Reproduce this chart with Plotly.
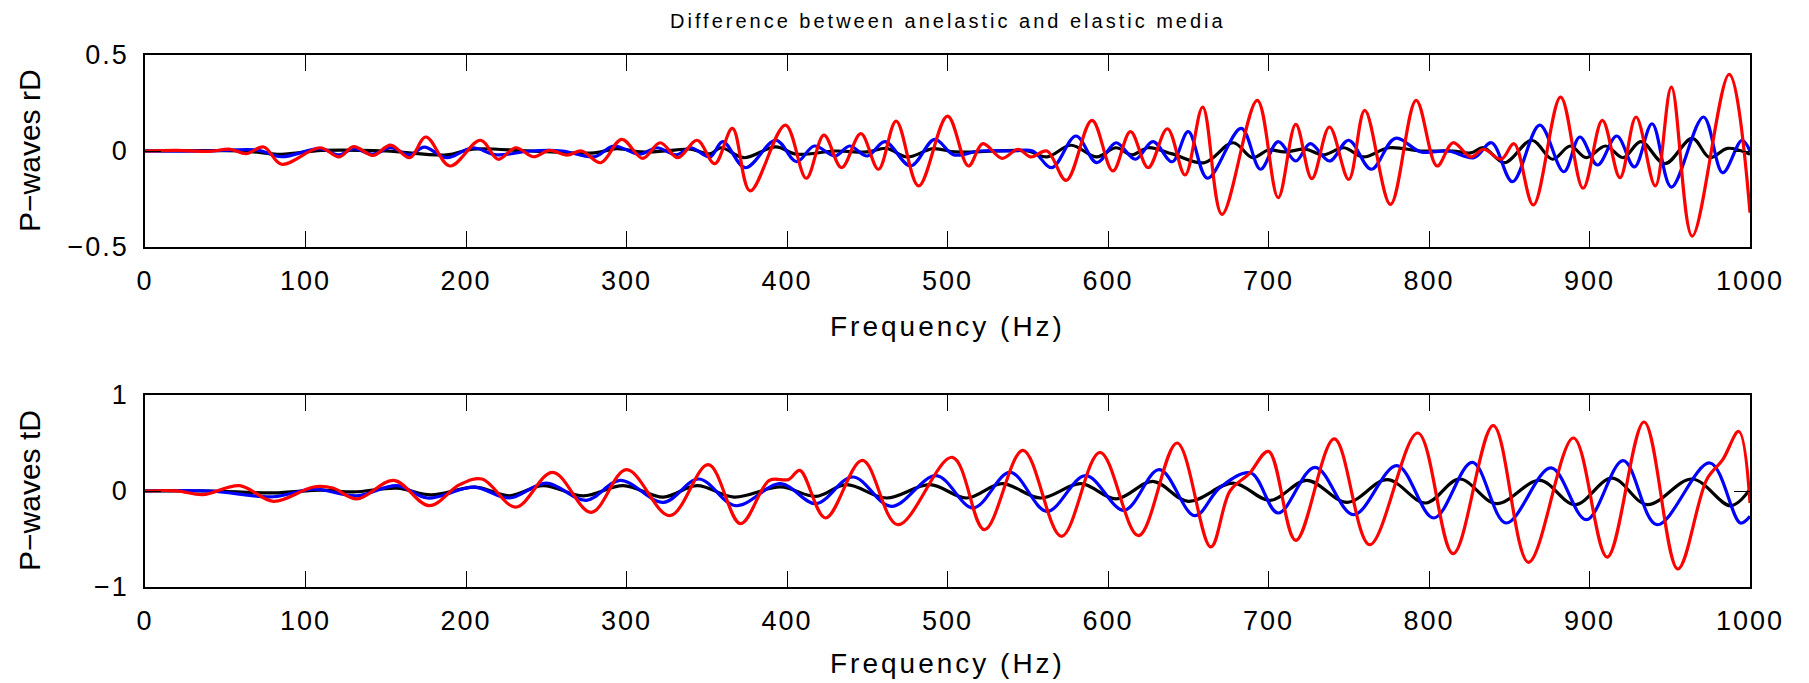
import plotly.graph_objects as go

# ---------------- data ----------------
# Top panel: P-waves rD
top_red_f = [0, 20, 40, 53, 63, 74, 85, 109, 121, 130, 142, 153, 165,
             175, 190, 209, 220, 231, 242, 252, 263, 272, 284, 297, 310, 321, 332,
             344, 355, 366, 377, 399, 412, 423, 434, 446, 457, 468, 482, 500,
             513, 522, 534, 544, 552, 562, 574, 590, 603, 614, 625, 637, 648, 659, 671,
             693, 706, 717, 727, 738, 750, 760, 776, 792, 805, 815, 826, 834,
             845, 853, 865, 882, 896, 908, 919, 929, 941, 951, 964, 987, 1000]
top_red_v = [0, 0.003, -0.002, 0.009, -0.014, 0.021, -0.069, 0.017, -0.031, 0.023, -0.023, 0.031, -0.035,
             0.073, -0.078, 0.056, -0.043, 0.017, -0.030, 0.003, -0.021, 0.0, -0.061, 0.061, -0.038, 0.043, -0.035,
             0.056, -0.066, 0.118, -0.208, 0.135, -0.142, 0.083, -0.087, 0.090, -0.095, 0.156, -0.182, 0.182,
             -0.078, 0.038, -0.038, 0.009, -0.031, 0.0, -0.153, 0.160, -0.104, 0.101, -0.087, 0.116, -0.125, 0.229, -0.330,
             0.264, -0.243, 0.139, -0.144, 0.125, -0.148, 0.212, -0.278, 0.264, -0.078, 0.043, -0.031, 0.009,
             -0.043, 0.038, -0.281, 0.281, -0.194, 0.160, -0.139, 0.177, -0.182, 0.333, -0.443, 0.399, -0.321]

top_blue_f = [0, 40, 70, 85, 109, 121, 130, 142, 153, 165,
              174, 188, 204, 219, 240, 260, 280, 292, 308, 319, 331,
              340, 352, 360, 374, 393, 406, 417, 430, 439, 450, 461, 477, 492, 504,
              520, 540, 553, 565, 580, 593, 605, 617, 628, 640, 650, 662,
              683, 695, 706, 717, 726, 738, 750, 764, 779, 795, 812, 828, 839,
              852, 869, 884, 894, 905, 917, 928, 939, 951, 971, 983, 995, 1000]
top_blue_v = [0, 0.0, 0.005, -0.03, 0.012, -0.02, 0.012, -0.017, 0.017, -0.02,
              0.02, -0.035, 0.017, -0.02, 0.0, 0.0, -0.03, 0.026, -0.017, 0.017, -0.02,
              0.017, -0.031, 0.049, -0.087, 0.056, -0.056, 0.026, -0.026, 0.026, -0.026, 0.049, -0.078, 0.061, -0.02,
              0.0, 0.0, 0.0, -0.087, 0.078, -0.061, 0.043, -0.043, 0.049, -0.056, 0.101, -0.142,
              0.118, -0.095, 0.049, -0.052, 0.038, -0.052, 0.056, -0.095, 0.066, -0.005, 0.0, -0.035, 0.043,
              -0.16, 0.135, -0.108, 0.073, -0.073, 0.078, -0.083, 0.142, -0.188, 0.177, -0.113, 0.056, 0.0]

top_black_f = [0, 60, 85, 110, 150,
               188, 204, 240, 280, 294, 310, 330,
               340, 352, 359, 373, 393, 406, 430, 450, 462, 475, 491, 505,
               530, 550, 562, 577, 593, 605, 615, 625, 640, 660,
               678, 690, 700, 710, 723, 734, 747, 759, 775, 795, 815, 826, 834,
               847, 864, 877, 888, 898, 910, 921, 932, 947, 964, 975, 986, 1000]
top_black_v = [0, 0, -0.017, 0.003, 0.0,
               -0.02, 0.01, 0.0, -0.01, 0.012, -0.005, 0.005,
               0.01, -0.015, 0.017, -0.035, 0.021, -0.017, 0.0, -0.005, 0.014, -0.031, 0.012, -0.005,
               0.0, 0.0, -0.031, 0.03, -0.031, 0.017, -0.02, 0.017, -0.015, -0.061,
               0.043, -0.035, 0.005, -0.005, 0.009, -0.02, 0.017, -0.031, 0.017, 0.0, 0.0, -0.01, 0.017,
               -0.061, 0.056, -0.043, 0.026, -0.035, 0.026, -0.035, 0.049, -0.066, 0.066, -0.035, 0.014, -0.017]

# Bottom panel: P-waves tD
bot_red_f = [0, 20, 36, 59, 80, 105, 117, 132, 155,
             177, 196, 210, 231, 254, 278, 300, 327,
             351, 371, 389, 401, 408, 424, 447, 469, 503,
             523, 547, 571, 595, 619, 643, 664,
             676, 688, 700, 717, 741, 763, 793, 815, 840,
             862, 890, 911, 934, 955, 973, 983, 993, 1000]
bot_red_v = [0, 0.002, -0.038, 0.056, -0.108, 0.042, 0.031, -0.083, 0.111,
             -0.153, 0.066, 0.125, -0.167, 0.194, -0.222, 0.222, -0.257,
             0.274, -0.34, 0.11, 0.12, 0.215, -0.281, 0.319, -0.351, 0.351,
             -0.403, 0.424, -0.472, 0.403, -0.465, 0.5, -0.583,
             0.0, 0.18, 0.413, -0.514, 0.542, -0.559, 0.604, -0.653, 0.681,
             -0.743, 0.552, -0.688, 0.719, -0.8125, 0.118, 0.326, 0.62, -0.125]

bot_blue_f = [0, 40, 80, 105, 132, 157,
              176, 205, 227, 250, 275, 296, 323,
              345, 368, 396, 418, 441, 465, 493,
              516, 539, 562, 586, 610, 632, 654,
              670, 689, 706, 729, 753, 780, 803, 827,
              848, 876, 898, 921, 942, 975, 994, 1000]
bot_blue_v = [0, 0, -0.06, 0.02, -0.05, 0.056,
              -0.073, 0.04, -0.073, 0.083, -0.097, 0.111, -0.118,
              0.125, -0.153, 0.076, -0.132, 0.146, -0.16, 0.16,
              -0.177, 0.194, -0.212, 0.16, -0.201, 0.222, -0.257,
              0.04, 0.188, -0.229, 0.247, -0.247, 0.264, -0.281, 0.299,
              -0.333, 0.24, -0.299, 0.316, -0.351, 0.292, -0.333, -0.264]

bot_black_f = [0, 40, 80, 110, 130, 157,
               178, 206, 227, 248, 273, 298, 323,
               344, 367, 396, 418, 437, 462, 489,
               512, 534, 558, 583, 605, 628, 650,
               678, 701, 724, 749, 774, 798, 819, 842,
               869, 891, 914, 936, 964, 988, 1000]
bot_black_v = [0, 0, -0.02, 0.01, -0.01, 0.03,
               -0.04, 0.04, -0.05, 0.056, -0.05, 0.056, -0.063,
               0.056, -0.063, 0.042, -0.056, 0.066, -0.073, 0.066,
               -0.073, 0.076, -0.073, 0.076, -0.083, 0.1, -0.108,
               0.083, -0.097, 0.111, -0.118, 0.118, -0.125, 0.125, -0.132,
               0.111, -0.142, 0.135, -0.142, 0.125, -0.153, 0.02]

x_ticks = [0, 100, 200, 300, 400, 500, 600, 700, 800, 900, 1000]
x_ticktext = ["0", "100", "200", "300", "400", "500", "600", "700", "800", "900", "1000"]
top_yticks = [-0.5, 0, 0.5]
top_yticktext = ["\u22120.5", "0", "0.5"]
bot_yticks = [-1, 0, 1]
bot_yticktext = ["\u22121", "0", "1"]

title_text = "Difference between anelastic and elastic media"
top_ylabel = "P\u2212waves rD"
bot_ylabel = "P\u2212waves tD"
x_label = "Frequency (Hz)"

# ---------------- figure ----------------
FONT = "Liberation Sans, Arial, Helvetica, sans-serif"
W, H = 1809, 683
ML, MR, MT, MB = 145, 59, 55, 96
plot_h = H - MT - MB
top_dom = [(587 - 247) / plot_h, 1.0]
bot_dom = [0.0, (587 - 395) / plot_h]


def spaced(s, px):
    return '<span style="letter-spacing:%.1fpx">%s</span>' % (px, s)


fig = go.Figure()


def add(fx, fv, color, xa, ya):
    assert len(fx) == len(fv)
    fig.add_trace(go.Scatter(x=fx, y=fv, mode="lines", xaxis=xa, yaxis=ya,
                             line=dict(color=color, width=3.2, shape="spline", smoothing=1.0),
                             showlegend=False, hoverinfo="skip"))


add(top_black_f, top_black_v, "black", "x", "y")
add(top_blue_f, top_blue_v, "#0000ff", "x", "y")
add(top_red_f, top_red_v, "#ff0000", "x", "y")
add(bot_black_f, bot_black_v, "black", "x2", "y2")
add(bot_blue_f, bot_blue_v, "#0000ff", "x2", "y2")
add(bot_red_f, bot_red_v, "#ff0000", "x2", "y2")

axis_common = dict(showline=True, linecolor="black", linewidth=1.5, mirror="ticks",
                   ticks="inside", ticklen=16, tickwidth=1.3, tickcolor="black",
                   showgrid=False, zeroline=False,
                   tickfont=dict(family=FONT, size=27, color="black"))

xt = [spaced(t, 2) for t in x_ticktext]

fig.update_layout(
    width=W, height=H,
    margin=dict(l=ML, r=MR, t=MT, b=MB),
    paper_bgcolor="white", plot_bgcolor="white",
    xaxis=dict(domain=[0, 1], anchor="y", range=[0, 1000], tickvals=x_ticks, ticktext=xt,
               ticklabelstandoff=9, **axis_common),
    yaxis=dict(domain=top_dom, anchor="x", range=[-0.5, 0.5], tickvals=top_yticks,
               ticktext=[spaced(t, 2) for t in top_yticktext], ticklabelstandoff=9, **axis_common),
    xaxis2=dict(domain=[0, 1], anchor="y2", range=[0, 1000], tickvals=x_ticks, ticktext=xt,
                ticklabelstandoff=9, **axis_common),
    yaxis2=dict(domain=bot_dom, anchor="x2", range=[-1, 1], tickvals=bot_yticks,
                ticktext=[spaced(t, 2) for t in bot_yticktext], ticklabelstandoff=9, **axis_common),
)

ann_font = dict(family=FONT, size=28, color="black")
# title
fig.add_annotation(text=spaced(title_text, 3), xref="paper", yref="paper", x=0.5, y=1,
                   yanchor="middle", yshift=55 - 21, showarrow=False,
                   font=dict(family=FONT, size=20, color="black"))
# x labels
fig.add_annotation(text=spaced(x_label, 3), xref="paper", yref="paper", x=0.5, y=top_dom[0],
                   yanchor="middle", yshift=-79, showarrow=False, font=ann_font)
fig.add_annotation(text=spaced(x_label, 3), xref="paper", yref="paper", x=0.5, y=bot_dom[0],
                   yanchor="middle", yshift=-76, showarrow=False, font=ann_font)
# y labels
fig.add_annotation(text=top_ylabel, xref="paper", yref="paper", x=0, y=sum(top_dom) / 2,
                   xanchor="center", yanchor="middle", xshift=-116, textangle=-90, showarrow=False,
                   font=dict(family=FONT, size=30, color="black"))
fig.add_annotation(text=bot_ylabel, xref="paper", yref="paper", x=0, y=sum(bot_dom) / 2,
                   xanchor="center", yanchor="middle", xshift=-116, textangle=-90, showarrow=False,
                   font=dict(family=FONT, size=30, color="black"))

fig.write_html("out.html")
